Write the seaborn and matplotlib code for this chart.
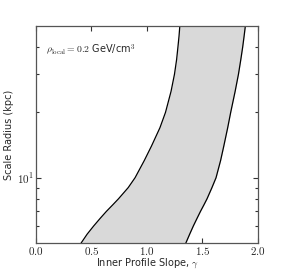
import matplotlib
matplotlib.use("Agg")
import matplotlib.pyplot as plt
import matplotlib.ticker as mticker
import seaborn as sns
import pandas as pd

# Data
scale_radius = [5, 5.5, 6, 6.5, 7, 7.5, 8, 9, 10, 12, 14, 17, 20, 25, 30, 35, 40, 45, 50]
gamma_lower = [0.407, 0.462, 0.521, 0.579, 0.635, 0.692, 0.744, 0.831, 0.893, 0.976,
               1.041, 1.117, 1.167, 1.217, 1.248, 1.267, 1.279, 1.289, 1.296]
gamma_upper = [1.350, 1.385, 1.418, 1.451, 1.482, 1.513, 1.541, 1.585, 1.622, 1.663,
               1.692, 1.727, 1.754, 1.794, 1.824, 1.845, 1.862, 1.875, 1.886]
x_ticks = [0.0, 0.5, 1.0, 1.5, 2.0]
annotation = r"$\rho_{\rm local} = 0.2$ GeV/cm$^3$"

sns.set_style("ticks", {"xtick.direction": "in", "ytick.direction": "in"})
plt.rcParams["font.family"] = ["DejaVu Sans"]
plt.rcParams["mathtext.fontset"] = "cm"

df_lo = pd.DataFrame({"gamma": gamma_lower, "r": scale_radius})
df_hi = pd.DataFrame({"gamma": gamma_upper, "r": scale_radius})

fig = plt.figure(figsize=(2.87, 2.71), dpi=100)
ax = fig.add_axes([0.125, 0.103, 0.774, 0.801])

ax.fill_betweenx(scale_radius, gamma_lower, gamma_upper, color="#d9d9d9", lw=0)
sns.lineplot(data=df_lo, x="gamma", y="r", sort=False, estimator=None, orient="y",
             color="black", lw=0.9, ax=ax)
sns.lineplot(data=df_hi, x="gamma", y="r", sort=False, estimator=None, orient="y",
             color="black", lw=0.9, ax=ax)

ax.set_yscale("log")
ax.set_xlim(0, 2)
ax.set_ylim(5, 50)
ax.set_xticks(x_ticks)
ax.xaxis.set_major_formatter(mticker.FuncFormatter(lambda v, p: f"${v:.1f}$"))
ax.yaxis.set_major_locator(mticker.FixedLocator([10]))
ax.yaxis.set_major_formatter(mticker.FuncFormatter(lambda v, p: r"$10^{1}$"))
ax.yaxis.set_minor_locator(mticker.FixedLocator([6, 7, 8, 9, 20, 30, 40]))
ax.yaxis.set_minor_formatter(mticker.NullFormatter())

ax.tick_params(which="both", direction="in", top=True, right=True, labelsize=8,
               color="#333333", width=0.8, pad=1.5)
ax.tick_params(which="major", length=3.5)
ax.tick_params(which="minor", length=2)
for s in ax.spines.values():
    s.set_visible(True)
    s.set_color("#555555")
    s.set_linewidth(0.9)

ax.set_xlabel(r"Inner Profile Slope, $\gamma$", fontsize=7)
ax.xaxis.set_label_coords(0.5, -0.06)
ax.set_ylabel("Scale Radius (kpc)", fontsize=7, labelpad=2)
ax.text(0.09, 39, annotation, fontsize=7, ha="left", va="center")

fig.savefig("out.png", dpi=100)
